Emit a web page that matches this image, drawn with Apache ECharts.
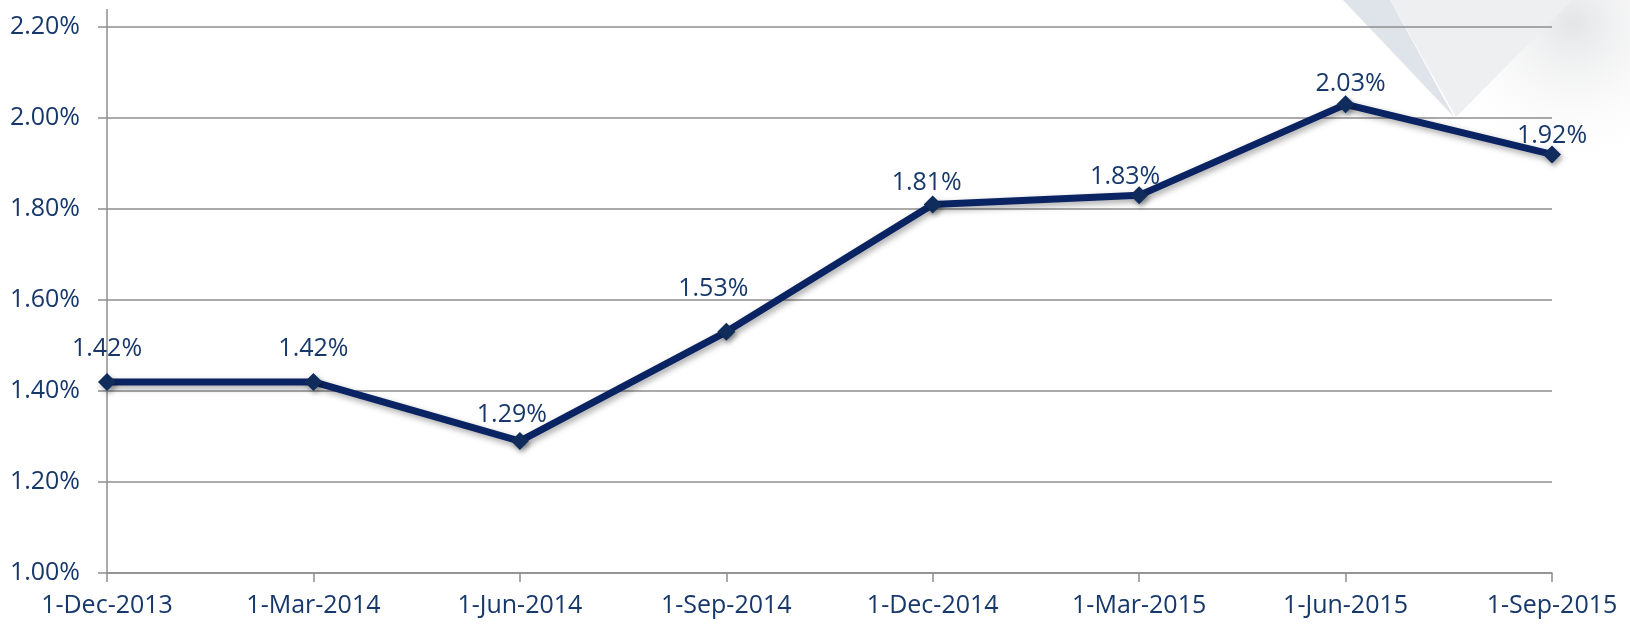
<!DOCTYPE html>
<html>
<head>
<meta charset="utf-8">
<script src="https://cdn.jsdelivr.net/npm/echarts@6/dist/echarts.min.js"></script>
<style>
html,body{margin:0;padding:0;background:#fff;}
#c{width:1630px;height:624px;}
</style>
</head>
<body>
<div id="c"></div>
<script>
var categories = ['1-Dec-2013','1-Mar-2014','1-Jun-2014','1-Sep-2014','1-Dec-2014','1-Mar-2015','1-Jun-2015','1-Sep-2015'];
var rates = [1.42, 1.42, 1.29, 1.53, 1.81, 1.83, 2.03, 1.92];
var yMin = 1.0, yMax = 2.2, yStep = 0.2;

// label nudges (style only), as placed in the original
var labelNudges = [[0,4],[0,4],[-8,11],[-13,-5],[-6,16],[-14,19],[5,17],[0,19]];

var FONT = 'Open Sans';
var TXT = '#17386a';
var GRID = '#8e8e8e';

var seriesData = rates.map(function(v, i){
  return {value: v, label: {offset: labelNudges[i]}};
});

var chart = echarts.init(document.getElementById('c'), null, {renderer:'canvas'});
chart.setOption({
  backgroundColor: '#ffffff',
  animation: false,
  graphic: [
    {type:'rect', z:-5, shape:{x:1440,y:0,width:190,height:230},
     style:{fill:{type:'radial',x:0.7,y:0.1,r:0.8,colorStops:[{offset:0,color:'rgba(225,226,228,0.9)'},{offset:1,color:'rgba(255,255,255,0)'}]}}},
    {type:'polygon', z:-4, shape:{points:[[1390,0],[1572,0],[1456,117]]},
     style:{fill:'#eeeff1'}},
    {type:'polygon', z:-4, shape:{points:[[1343,0],[1390,0],[1454,117]]},
     style:{fill:'#dfe3ea'}},
    {type:'line', z:5, shape:{x1:107,y1:9,x2:107,y2:27}, style:{stroke:GRID,lineWidth:1.5}}
  ],
  grid: {left:107, right:78, top:27, bottom:51, containLabel:false},
  xAxis: {
    type:'category',
    data: categories,
    boundaryGap:false,
    axisLine:{show:true, lineStyle:{color:GRID, width:1.5}},
    axisTick:{show:true, length:9, alignWithLabel:true, lineStyle:{color:GRID, width:1.5}},
    axisLabel:{color:TXT, fontFamily:FONT, fontSize:25, margin:20, interval:0},
    splitLine:{show:false}
  },
  yAxis: {
    type:'value',
    min:yMin, max:yMax, interval:yStep,
    axisLine:{show:true, lineStyle:{color:GRID, width:1.5}},
    axisTick:{show:true, length:9, lineStyle:{color:GRID, width:1.5}},
    axisLabel:{color:TXT, fontFamily:FONT, fontSize:25, margin:27,
      formatter:function(v){return v.toFixed(2)+'%';}},
    splitLine:{show:true, lineStyle:{color:GRID, width:1.5}}
  },
  series: [{
    type:'line',
    data: seriesData,
    symbol:'diamond',
    symbolSize:18,
    lineStyle:{color:'#0a2363', width:7, shadowColor:'rgba(0,0,0,0.35)', shadowBlur:6, shadowOffsetX:2, shadowOffsetY:3},
    itemStyle:{color:'#0f2c5c', shadowColor:'rgba(0,0,0,0.35)', shadowBlur:5, shadowOffsetX:2, shadowOffsetY:3},
    label:{show:true, position:'top', distance:16, color:TXT, fontFamily:FONT, fontSize:25,
      formatter:function(p){return p.value.toFixed(2)+'%';}},
    z:3
  }]
});
</script>
</body>
</html>
